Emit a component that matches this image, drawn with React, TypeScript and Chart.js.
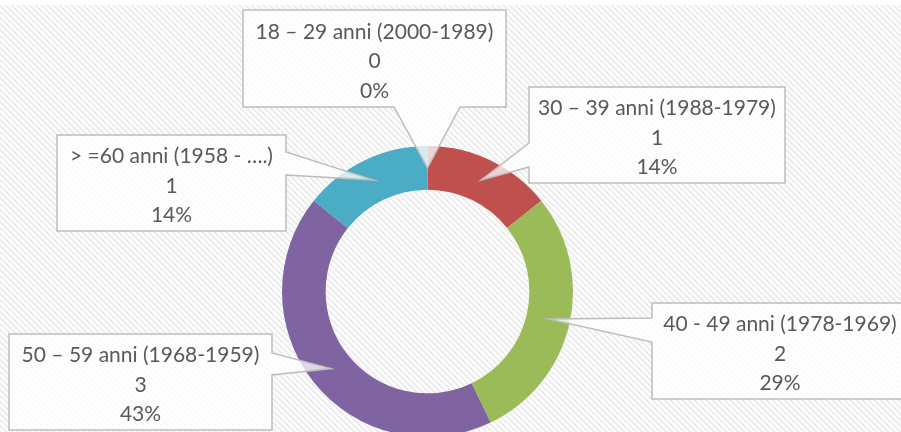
import React, { useEffect, useRef } from 'react';
import { Chart, registerables } from 'chart.js';

Chart.register(...registerables);

// ---- data ----
const categories = [
  '18 – 29 anni (2000-1989)',
  '30 – 39 anni (1988-1979)',
  '40 - 49 anni (1978-1969)',
  '50 – 59 anni (1968-1959)',
  '> =60 anni (1958 - ….)',
];
const counts = [0, 1, 2, 3, 1];
const sliceColors = ['#4F81BD', '#C0504D', '#9BBB59', '#8064A2', '#4BACC6'];

// ---- callout label layout (box rectangles and wedge base on one edge) ----
type Side = 'bottom' | 'left' | 'right';
const calloutBoxes: { x0: number; y0: number; x1: number; y1: number; side: Side; g0: number; g1: number }[] = [
  { x0: 243, y0: 10, x1: 506, y1: 107, side: 'bottom', g0: 394, g1: 460 },
  { x0: 529, y0: 87, x1: 785, y1: 183, side: 'left', g0: 143, g1: 167 },
  { x0: 652, y0: 303, x1: 908, y1: 399, side: 'left', g0: 318, g1: 342 },
  { x0: 9, y0: 334, x1: 272, y1: 430, side: 'right', g0: 353, g1: 375 },
  { x0: 57, y0: 135, x1: 286, y1: 231, side: 'right', g0: 152, g1: 175 },
];

const FONT = '21px Lato, "Open Sans", sans-serif';
const TEXT_COLOR = '#595959';

function makeHatch(ctx: CanvasRenderingContext2D) {
  const c = document.createElement('canvas');
  c.width = 6;
  c.height = 6;
  const cx = c.getContext('2d')!;
  const img = cx.createImageData(6, 6);
  const shades = [0xea, 0xef, 0xf8, 0xfe, 0xfe, 0xf5];
  for (let y = 0; y < 6; y++) {
    for (let x = 0; x < 6; x++) {
      const k = (((x - y) % 6) + 6) % 6;
      const v = shades[k];
      const i = (y * 6 + x) * 4;
      img.data[i] = v;
      img.data[i + 1] = v;
      img.data[i + 2] = v;
      img.data[i + 3] = 255;
    }
  }
  cx.putImageData(img, 0, 0);
  return ctx.createPattern(c, 'repeat');
}

const backgroundPlugin = {
  id: 'hatchBg',
  beforeDraw(chart: any) {
    const ctx: CanvasRenderingContext2D = chart.ctx;
    ctx.save();
    ctx.fillStyle = '#ffffff';
    ctx.fillRect(0, 0, chart.width, chart.height);
    const p = makeHatch(ctx);
    if (p) {
      ctx.fillStyle = p;
      ctx.fillRect(0, 5, chart.width, chart.height - 5);
    }
    ctx.restore();
  },
};

const calloutPlugin = {
  id: 'callouts',
  afterDatasetsDraw(chart: any) {
    const ctx: CanvasRenderingContext2D = chart.ctx;
    const meta = chart.getDatasetMeta(0);
    const data: number[] = chart.data.datasets[0].data;
    const total = data.reduce((a, b) => a + b, 0);
    ctx.save();
    meta.data.forEach((arc: any, i: number) => {
      const b = calloutBoxes[i];
      if (!b) return;
      const mid = (arc.startAngle + arc.endAngle) / 2;
      const r = (arc.innerRadius + arc.outerRadius) / 2;
      const tx = arc.x + Math.cos(mid) * r;
      const ty = arc.y + Math.sin(mid) * r;

      ctx.beginPath();
      ctx.moveTo(b.x0, b.y0);
      ctx.lineTo(b.x1, b.y0);
      if (b.side === 'right') {
        ctx.lineTo(b.x1, b.g0);
        ctx.lineTo(tx, ty);
        ctx.lineTo(b.x1, b.g1);
      }
      ctx.lineTo(b.x1, b.y1);
      if (b.side === 'bottom') {
        ctx.lineTo(b.g1, b.y1);
        ctx.lineTo(tx, ty);
        ctx.lineTo(b.g0, b.y1);
      }
      ctx.lineTo(b.x0, b.y1);
      if (b.side === 'left') {
        ctx.lineTo(b.x0, b.g1);
        ctx.lineTo(tx, ty);
        ctx.lineTo(b.x0, b.g0);
      }
      ctx.closePath();
      ctx.fillStyle = 'rgba(255,255,255,0.75)';
      ctx.fill();
      ctx.lineWidth = 1.5;
      ctx.strokeStyle = '#bdbdbd';
      ctx.lineJoin = 'miter';
      ctx.stroke();

      const cxm = (b.x0 + b.x1) / 2;
      const cym = (b.y0 + b.y1) / 2 + 9.5;
      const v = data[i];
      const pct = total ? Math.round((v / total) * 100) : 0;
      const lines = [chart.data.labels[i], String(v), pct + '%'];
      ctx.fillStyle = TEXT_COLOR;
      ctx.font = FONT;
      ctx.textAlign = 'center';
      ctx.textBaseline = 'alphabetic';
      lines.forEach((t: string, j: number) => {
        ctx.fillText(t, cxm, cym + (j - 1) * 29.5);
      });
    });
    ctx.restore();
  },
};

export default function App() {
  const ref = useRef<HTMLCanvasElement | null>(null);
  useEffect(() => {
    document.body.style.margin = '0';
    const canvas = ref.current!;
    const chart = new Chart(canvas, {
      type: 'doughnut',
      data: {
        labels: categories,
        datasets: [
          {
            data: counts,
            backgroundColor: sliceColors,
            borderWidth: 0,
          },
        ],
      },
      options: {
        responsive: false,
        animation: false,
        cutout: '70%',
        layout: { padding: { left: 282, right: 328, top: 146, bottom: 33 } },
        plugins: {
          legend: { display: false },
          tooltip: { enabled: false },
        },
      },
      plugins: [backgroundPlugin, calloutPlugin],
    });
    return () => chart.destroy();
  }, []);
  return (
    <div style={{ position: 'fixed', left: 0, top: 0, width: 901, height: 432, overflow: 'hidden', background: '#fff' }}>
      <canvas ref={ref} width={901} height={470} style={{ display: 'block', width: 901, height: 470 }} />
    </div>
  );
}
